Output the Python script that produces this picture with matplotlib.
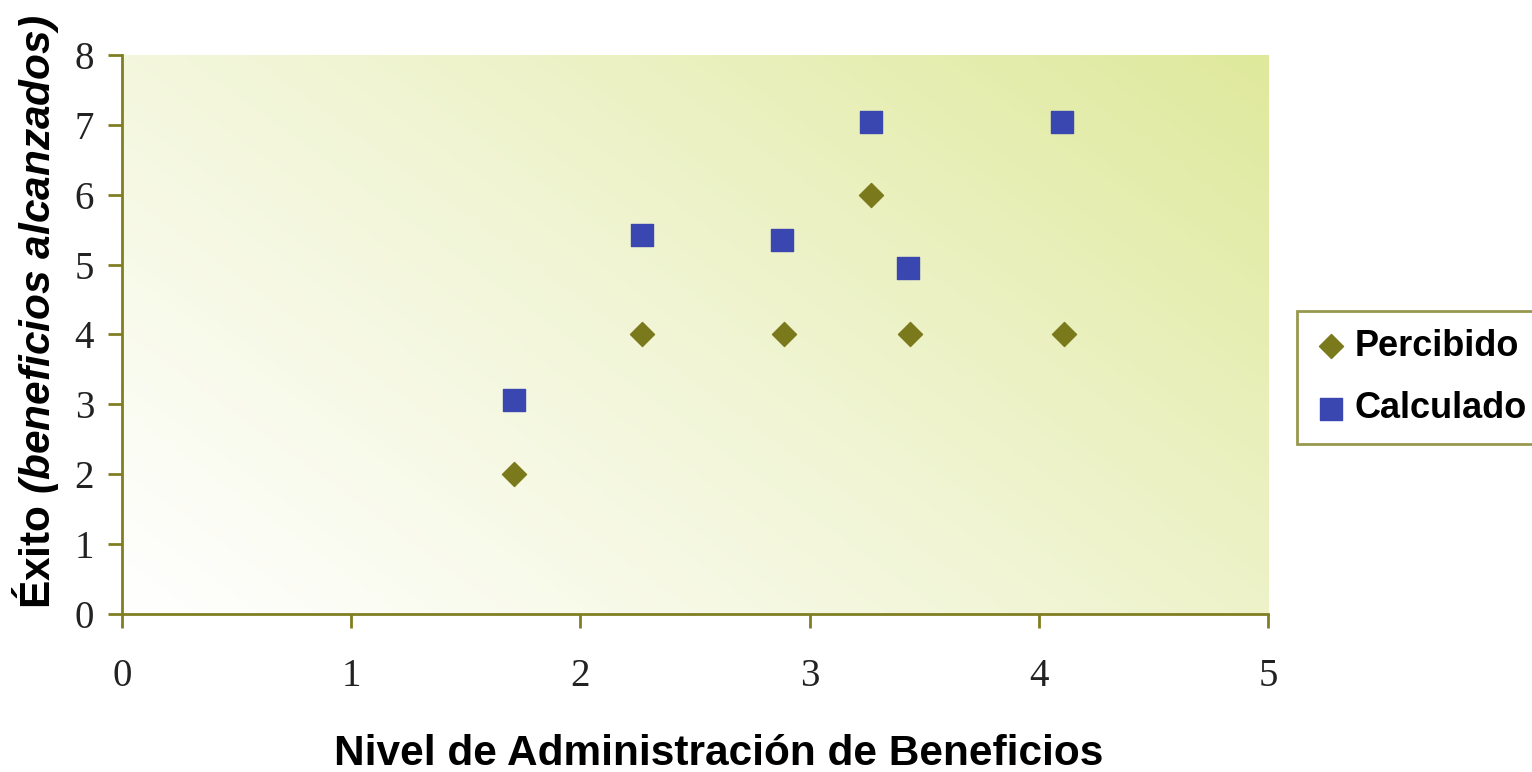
import numpy as np
import matplotlib.pyplot as plt
from matplotlib.colors import LinearSegmentedColormap

plt.rcParams['mathtext.fontset'] = 'custom'
plt.rcParams['mathtext.bfit'] = 'Liberation Sans:bold:italic'
plt.rcParams['mathtext.it'] = 'Liberation Sans:italic'
plt.rcParams['mathtext.bf'] = 'Liberation Sans:bold'

# nivel de administración vs éxito
nivel = [1.71, 2.27, 2.89, 3.27, 3.44, 4.11]
percibido = [2, 4, 4, 6, 4, 4]
nivel_calc = [1.71, 2.27, 2.88, 3.27, 3.43, 4.10]
calculado = [3.06, 5.42, 5.35, 7.04, 4.95, 7.04]

xticks = [0, 1, 2, 3, 4, 5]
yticks = [0, 1, 2, 3, 4, 5, 6, 7, 8]

olive = '#7a7a1c'
blue = '#3a47b0'
axcol = '#7f7f22'

fig = plt.figure(figsize=(15.32, 7.72), dpi=100)
ax = fig.add_axes([0.0796, 0.2047, 0.7481, 0.7241])

# diagonal gradient background: white bottom-left -> pale yellow-green top-right
gx, gy = np.meshgrid(np.linspace(0, 1, 300), np.linspace(0, 1, 300))
g = (gx * 0.6 + gy * 0.4)
cmap = LinearSegmentedColormap.from_list('bg', ['#ffffff', '#f1f5d4', '#dfe99c'])
ax.imshow(g, cmap=cmap, origin='lower', extent=[0, 1, 0, 1],
          transform=ax.transAxes, aspect='auto', zorder=0, vmin=0, vmax=1)

ax.scatter(nivel, percibido, marker='D', s=150, color=olive, label='Percibido', zorder=3)
ax.scatter(nivel_calc, calculado, marker='s', s=230, color=blue, label='Calculado', zorder=3)

ax.set_xlim(0, 5)
ax.set_ylim(0, 8)
ax.set_xticks(xticks)
ax.set_yticks(yticks)
for s in ['top', 'right']:
    ax.spines[s].set_visible(False)
for s in ['left', 'bottom']:
    ax.spines[s].set_color(axcol)
    ax.spines[s].set_linewidth(2)
ax.tick_params(direction='out', length=10, width=2, colors=axcol)
for lbl in ax.get_xticklabels() + ax.get_yticklabels():
    lbl.set_fontfamily('Liberation Serif')
    lbl.set_fontsize(28)
    lbl.set_color('#222222')
ax.tick_params(axis='x', pad=22)
ax.tick_params(axis='y', pad=10)

ax.set_xlabel('Nivel de Administración de Beneficios', fontfamily='Liberation Sans',
              fontweight='bold', fontsize=30.5, labelpad=28, x=0.521)
ax.set_ylabel(r'Éxito $\mathbfit{(beneficios\ alcanzados)}$', fontfamily='Liberation Sans',
              fontweight='bold', fontsize=30.5, labelpad=10, y=0.541)

leg = ax.legend(loc='center left', bbox_to_anchor=(1.025, 0.423), frameon=True,
                fancybox=False, edgecolor=axcol, prop={'family': 'Liberation Sans',
                'weight': 'bold', 'size': 26}, handletextpad=0.2, labelspacing=0.75,
                borderpad=0.5, handlelength=0.9, borderaxespad=0)
leg.get_frame().set_linewidth(2)

fig.savefig('out.png', dpi=100)
